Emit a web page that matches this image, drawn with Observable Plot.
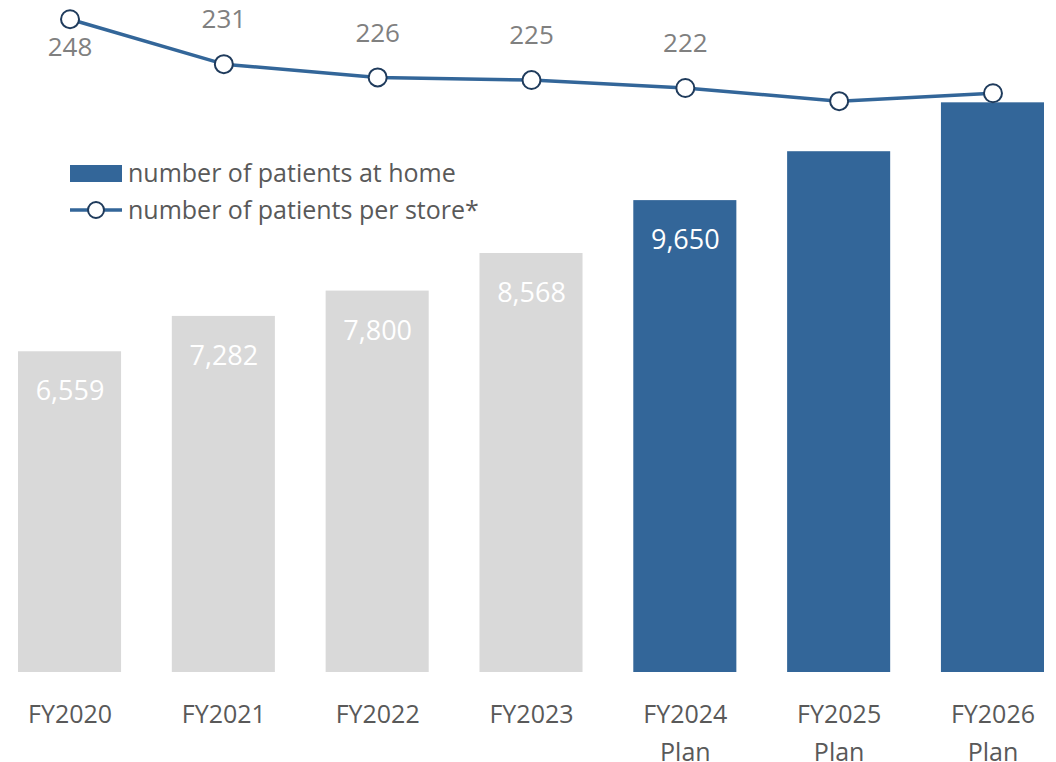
<!DOCTYPE html>
<html>
<head>
<meta charset="utf-8">
<script src="https://cdn.jsdelivr.net/npm/d3@7"></script>
<script src="https://cdn.jsdelivr.net/npm/@observablehq/plot@0.6"></script>
<style>
  html, body { margin: 0; padding: 0; background: #fff; }
  #wrap { position: relative; width: 1056px; height: 762px; font-family: "Open Sans", "Noto Sans", sans-serif; }
  #wrap svg { position: absolute; left: 0; top: 0; }
  #legend { position: absolute; left: 70px; top: 154px; color: #595959; font-size: 25px; line-height: 37px; }
  #legend .row { display: flex; align-items: center; height: 37px; }
  #legend svg { position: static; margin-right: 6px; }
</style>
</head>
<body>
<div id="wrap">
  <div id="bars"></div>
  <div id="line"></div>
  <div id="legend">
    <div class="row"><svg width="52" height="20"><rect x="0" y="2" width="52" height="17" fill="#336699"></rect></svg><span>number of patients at home</span></div>
    <div class="row"><svg width="52" height="22"><line x1="0" x2="52" y1="11" y2="11" stroke="#336699" stroke-width="3.5"></line><circle cx="26" cy="11" r="8" fill="#fff" stroke="#1f3b5c" stroke-width="2"></circle></svg><span>number of patients per store*</span></div>
  </div>
</div>
<script>
const years = ["FY2020", "FY2021", "FY2022", "FY2023", "FY2024", "FY2025", "FY2026"];
const tickLabels = ["FY2020", "FY2021", "FY2022", "FY2023", "FY2024\nPlan", "FY2025\nPlan", "FY2026\nPlan"];
const patientsAtHome = [6559, 7282, 7800, 8568, 9650, 10650, 11650];
const barLabels = ["6,559", "7,282", "7,800", "8,568", "9,650", "", ""];
const isPlan = [false, false, false, false, true, true, true];
const patientsPerStore = [248, 231, 226, 225, 222, 217, 220];
const perStoreLabels = ["248", "231", "226", "225", "222", "", ""];

const data = years.map((y, i) => ({
  year: y, tick: tickLabels[i], home: patientsAtHome[i], homeLabel: barLabels[i],
  plan: isPlan[i], perStore: patientsPerStore[i], perStoreLabel: perStoreLabels[i], i
}));

const W = 1056, H = 762;
const xOpts = { type: "band", domain: years, paddingInner: 0.33, paddingOuter: 0, round: false, axis: null, label: null };
const font = "'Open Sans', 'Noto Sans', sans-serif";

const bars = Plot.plot({
  width: W, height: H,
  marginLeft: 18, marginRight: 12, marginTop: 36.3, marginBottom: 90,
  style: { fontFamily: font, background: "transparent" },
  x: xOpts,
  y: { domain: [0, 13000], axis: null },
  marks: [
    Plot.barY(data, { x: "year", y: "home", fill: d => d.plan ? "#336699" : "#d9d9d9" }),
    Plot.text(data, { x: "year", y: "home", text: "homeLabel", dy: 40, fill: "#fff", fontSize: 27,
      fontWeight: d => d.i === 3 ? 600 : 400 }),
    Plot.axisX({ tickSize: 0, tickPadding: 24, fontSize: 25, lineHeight: 1.5, color: "#595959", label: null,
      tickFormat: d => tickLabels[years.indexOf(d)] })
  ]
});
document.getElementById("bars").appendChild(bars);

const line = Plot.plot({
  width: W, height: H,
  marginLeft: 18, marginRight: 12, marginTop: 18.7, marginBottom: H - (18.7 + 98 * 2.645),
  style: { fontFamily: font, background: "transparent" },
  x: xOpts,
  y: { domain: [150, 248], axis: null },
  marks: [
    Plot.line(data, { x: "year", y: "perStore", stroke: "#336699", strokeWidth: 3.5 }),
    Plot.dot(data, { x: "year", y: "perStore", r: 9, fill: "#fff", stroke: "#1f3b5c", strokeWidth: 2 }),
    Plot.text(data, { filter: d => d.i === 0, x: "year", y: "perStore", text: "perStoreLabel",
      fill: "#808080", fontSize: 26, dy: 28 }),
    Plot.text(data, { filter: d => d.i > 0, x: "year", y: "perStore", text: "perStoreLabel",
      fill: "#808080", fontSize: 26, dy: -44 })
  ]
});
document.getElementById("line").appendChild(line);
</script>
</body>
</html>
